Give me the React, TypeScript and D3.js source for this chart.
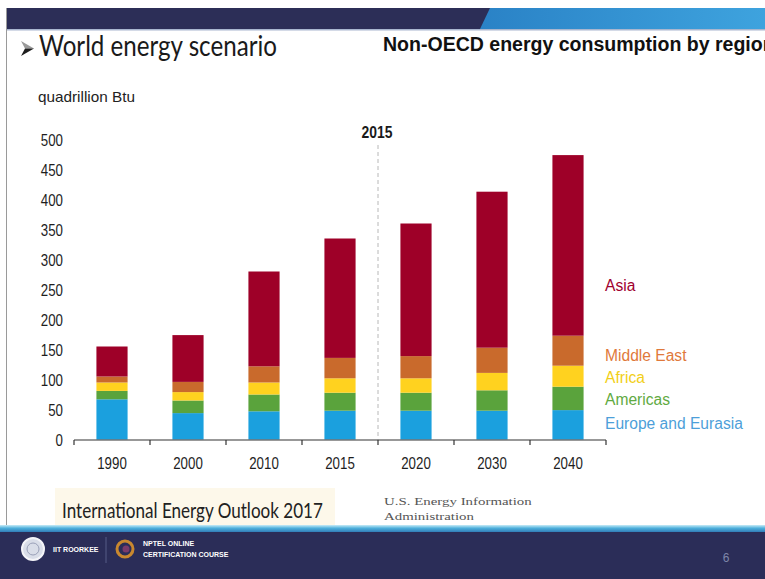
import React, { useLayoutEffect, useRef, useState } from 'react';
import * as d3 from 'd3';

const years = ['1990', '2000', '2010', '2015', '2020', '2030', '2040'];
const europe = [67, 44, 47, 48, 48, 48, 49];
const americas = [14, 21, 28, 30, 30, 34, 39];
const africa = [14, 14, 20, 24, 24, 29, 35];
const middleEast = [10, 17, 27, 34, 37, 42, 50];
const asia = [50, 78, 158, 199, 221, 260, 301];

const seriesKeys = ['Europe and Eurasia', 'Americas', 'Africa', 'Middle East', 'Asia'];
const seriesColors = ['#1ba0de', '#5aa33c', '#ffd21f', '#c96a2c', '#9e0028'];
const legendColors = ['#4d9fd9', '#5faa42', '#f2cf17', '#e0793b', '#a0002e'];
const yTicks = [0, 50, 100, 150, 200, 250, 300, 350, 400, 450, 500];
const dividerYear = '2015';

const W = 765;
const H = 579;
const legendY = [423, 399, 377, 355, 285];
const digitW = 7.4;

function FitText(props: any) {
  const { x, y, width, children, ...rest } = props;
  const ref = useRef<SVGTextElement>(null);
  const [s, setS] = useState(1);
  useLayoutEffect(() => {
    if (ref.current) {
      const len = ref.current.getComputedTextLength();
      if (len > 0) setS(width / len);
    }
  }, [width, children]);
  return (
    <text ref={ref} transform={`translate(${x},${y}) scale(${s},1)`} {...rest}>{children}</text>
  );
}

export default function App() {
  const table = years.map((yr, i) => ({
    year: yr,
    'Europe and Eurasia': europe[i],
    Americas: americas[i],
    Africa: africa[i],
    'Middle East': middleEast[i],
    Asia: asia[i],
  }));
  const stacked = d3.stack<any>().keys(seriesKeys)(table);

  const x = d3.scaleBand<string>().domain(years).range([74, 606]).paddingInner(0.59).paddingOuter(0.295);
  const y = d3.scaleLinear().domain([0, 500]).range([439.5, 139.5]);
  const gap = (x.step() - x.bandwidth()) / 2;
  const boundaries = years.map((yr) => (x(yr) as number) - gap).concat([(x(years[years.length - 1]) as number) + x.bandwidth() + gap]);
  const divX = (x(dividerYear) as number) + x.bandwidth() + gap;

  const sans = "'Liberation Sans', Arial, sans-serif";
  const calibri = "Lato, 'Open Sans', sans-serif";
  const serif = "'Liberation Serif', serif";

  return (
    <svg width={W} height={H} style={{ position: 'absolute', left: 0, top: 0, background: '#fff' }}>
      <defs>
        <linearGradient id="hdrBlue" x1="0" x2="1" y1="0" y2="0">
          <stop offset="0" stopColor="#2a82c6" />
          <stop offset="1" stopColor="#3ea3de" />
        </linearGradient>
        <linearGradient id="ftrStripe" x1="0" x2="0" y1="0" y2="1">
          <stop offset="0" stopColor="#c8ecf7" />
          <stop offset="0.4" stopColor="#4db0dc" />
          <stop offset="1" stopColor="#2a6fae" />
        </linearGradient>
      </defs>
      <rect x={0} y={0} width={W} height={H} fill="#fff" />
      {/* header band */}
      <rect x={7} y={8} width={W - 7} height={21} fill="#2c2e57" />
      <polygon points={`490,8 ${W},8 ${W},29 480,29`} fill="url(#hdrBlue)" />
      <rect x={7} y={29} width={W - 7} height={1.5} fill="#a9b6cf" />
      <line x1={6.5} x2={6.5} y1={8} y2={527} stroke="#9a9a9a" strokeWidth={1} />

      {/* titles */}
      <polygon points="21,41 34,48.5 25,48.5" fill="#9a9a9a" />
      <polygon points="25,48.5 34,48.5 21,56" fill="#1e1e1e" />
      <FitText x={39} y={55.5} width={238} fontFamily={calibri} fontSize={28} fill="#1a1a1a">World energy scenario</FitText>
      <FitText x={383} y={51} width={392} fontFamily={sans} fontWeight="bold" fontSize={21} fill="#111">Non-OECD energy consumption by region</FitText>
      <FitText x={38} y={102} width={97} fontFamily={sans} fontSize={14} fill="#222">quadrillion Btu</FitText>

      {/* y tick labels */}
      {yTicks.map((t) => (
        <FitText key={t} x={63} y={y(t) + 6} width={String(t).length * digitW} textAnchor="end" fontFamily={sans} fontSize={17} fill="#1e1e1e">{t}</FitText>
      ))}

      {/* divider */}
      <line x1={divX} x2={divX} y1={145} y2={439.5} stroke="#b8b8b8" strokeWidth={1} strokeDasharray="4,3" />
      <FitText x={divX - 1} y={138} width={31} textAnchor="middle" fontFamily={sans} fontWeight="bold" fontSize={16.5} fill="#1a1a1a">{dividerYear}</FitText>

      {/* bars */}
      {stacked.map((s, si) => (
        <g key={s.key} fill={seriesColors[si]}>
          {s.map((d: any) => (
            <rect key={d.data.year} x={x(d.data.year)} width={x.bandwidth()} y={y(d[1])} height={y(d[0]) - y(d[1])} />
          ))}
        </g>
      ))}

      {/* x axis */}
      <line x1={boundaries[0]} x2={boundaries[boundaries.length - 1]} y1={440} y2={440} stroke="#333" strokeWidth={1.2} />
      {boundaries.map((b, i) => (
        <line key={i} x1={b} x2={b} y1={440} y2={445} stroke="#333" strokeWidth={1.2} />
      ))}
      {years.map((yr) => (
        <FitText key={yr} x={(x(yr) as number) + x.bandwidth() / 2} y={469} width={yr.length * digitW} textAnchor="middle" fontFamily={sans} fontSize={17} fill="#1e1e1e">{yr}</FitText>
      ))}

      {/* legend */}
      {seriesKeys.map((k, i) => (
        <text key={k} x={605} y={legendY[i]} dy="0.36em" fontFamily={sans} fontSize={15.6} fill={legendColors[i]}>{k}</text>
      ))}

      {/* source box */}
      <rect x={55} y={488} width={280} height={37} fill="#fdf8ea" />
      <FitText x={62} y={518} width={261} fontFamily={calibri} fontSize={22} fill="#222">International Energy Outlook 2017</FitText>
      <FitText x={384} y={505} width={148} fontFamily={serif} fontSize={10.5} fill="#555">U.S. Energy Information</FitText>
      <FitText x={384} y={520} width={90} fontFamily={serif} fontSize={10.5} fill="#555">Administration</FitText>

      {/* footer */}
      <rect x={0} y={525} width={W} height={8} fill="url(#ftrStripe)" />
      <rect x={0} y={532} width={W} height={H - 532} fill="#2b2d58" />
      <circle cx={33} cy={549} r={11} fill="#d9dde8" stroke="#f4f4f8" strokeWidth={2} />
      <circle cx={33} cy={549} r={6} fill="none" stroke="#9aa0b8" strokeWidth={1} />
      <text x={53} y={552} fontFamily={sans} fontWeight="bold" fontSize={7} fill="#fff">IIT ROORKEE</text>
      <line x1={106} x2={106} y1={537} y2={563} stroke="#575c86" strokeWidth={1} />
      <circle cx={125} cy={549} r={8} fill="none" stroke="#c9882f" strokeWidth={3} />
      <circle cx={126} cy={549} r={3.5} fill="#7a3a6a" />
      <text x={143} y={546} fontFamily={sans} fontWeight="bold" fontSize={7} fill="#fff">NPTEL ONLINE</text>
      <text x={143} y={557} fontFamily={sans} fontWeight="bold" fontSize={7} fill="#fff">CERTIFICATION COURSE</text>
      <text x={726} y={562} textAnchor="middle" fontFamily={sans} fontSize={12} fill="#7f87aa">6</text>
    </svg>
  );
}
